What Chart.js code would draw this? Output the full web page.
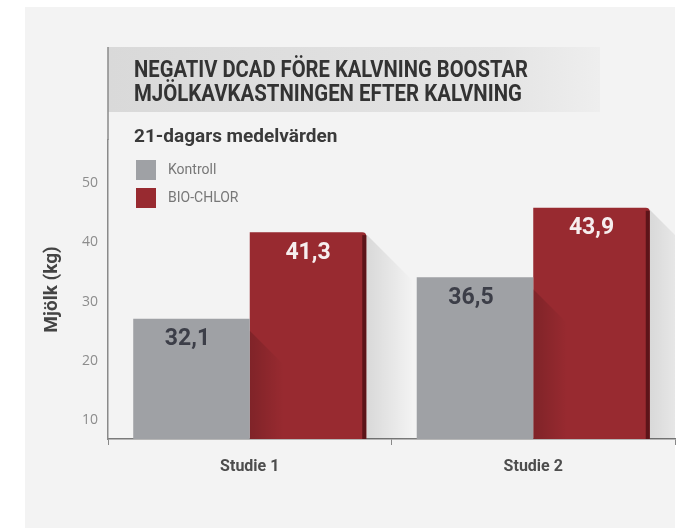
<!DOCTYPE html>
<html>
<head>
<meta charset="utf-8">
<script src="https://cdn.jsdelivr.net/npm/chart.js@4.4.0/dist/chart.umd.min.js"></script>
<style>
  html, body { margin: 0; background: #fff; }
</style>
</head>
<body>
<canvas id="chart" width="687" height="529"></canvas>
<script>
// data
const studies = ['Studie 1', 'Studie 2'];
const kontroll = [32.1, 36.5];
const bioChlor = [41.3, 43.9];
const yTicks = [10, 20, 30, 40, 50];
const titleLines = ['NEGATIV DCAD FÖRE KALVNING BOOSTAR', 'MJÖLKAVKASTNINGEN EFTER KALVNING'];
const subtitle = '21-dagars medelvärden';
const yTitle = 'Mjölk (kg)';

const GREY = '#9fa1a5';
const RED = '#982a30';

const fmt = v => v.toFixed(1).replace('.', ',');

// draws the text in a condensed way when it is wider than maxW
function squeezeText(ctx, text, x, y, maxW) {
    const w = ctx.measureText(text).width;
    ctx.save();
    ctx.translate(x, y);
    if (w > maxW) ctx.scale(maxW / w, 1);
    ctx.fillText(text, 0, 0);
    ctx.restore();
}

const decor = {
    id: 'decor',
    beforeDraw(chart) {
        const ctx = chart.ctx;
        const area = chart.chartArea;
        ctx.save();
        ctx.fillStyle = '#f3f3f3';
        ctx.fillRect(25, 7, 650, 521);

        // header band
        const g = ctx.createLinearGradient(area.left, 0, 600, 0);
        g.addColorStop(0, '#d9d9d9');
        g.addColorStop(0.8, '#e4e4e4');
        g.addColorStop(1, '#eeeeee');
        ctx.fillStyle = g;
        ctx.fillRect(area.left, 47, 600 - area.left, 65);

        // frame line above the plot
        ctx.strokeStyle = '#8a8a8a';
        ctx.lineWidth = 1.5;
        ctx.beginPath();
        ctx.moveTo(area.left, 47);
        ctx.lineTo(area.left, area.top);
        ctx.stroke();

        ctx.fillStyle = '#333';
        ctx.textBaseline = 'alphabetic';
        ctx.textAlign = 'left';
        ctx.font = 'bold 23px Roboto';
        squeezeText(ctx, titleLines[0], 134, 77, 394);
        squeezeText(ctx, titleLines[1], 134, 101, 388);

        ctx.fillStyle = '#3a3a3a';
        ctx.font = 'bold 19px Roboto';
        squeezeText(ctx, subtitle, 134, 142, 218);
        ctx.restore();
    },
    afterDatasetsDraw(chart) {
        const ctx = chart.ctx;
        const area = chart.chartArea;
        ctx.save();
        ctx.beginPath();
        ctx.rect(area.left, area.top, area.right - area.left, area.bottom - area.top);
        ctx.clip();
        chart.data.datasets.forEach((ds, i) => {
            const meta = chart.getDatasetMeta(i);
            meta.data.forEach((bar, j) => {
                const p = bar.getProps(['x', 'y', 'base', 'width'], true);
                const base = Math.min(p.base, area.bottom);
                const right = p.x + p.width / 2;
                const w = i === 0 ? 34 : 47;
                const a = i === 0 ? 0.16 : 0.11;
                const top = p.y + (i === 0 ? 12 : 2);
                const sg = ctx.createLinearGradient(right, 0, right + w, 0);
                sg.addColorStop(0, 'rgba(0,0,0,' + a + ')');
                sg.addColorStop(1, 'rgba(0,0,0,0)');
                ctx.fillStyle = sg;
                ctx.beginPath();
                ctx.moveTo(right, top);
                ctx.lineTo(right + w, top + w);
                ctx.lineTo(right + w, base);
                ctx.lineTo(right, base);
                ctx.closePath();
                ctx.fill();

                if (i === 1) {
                    ctx.fillStyle = '#5c1419';
                    ctx.fillRect(right - 4, p.y + 3, 4, base - p.y - 3);
                }

                ctx.fillStyle = i === 0 ? '#3c3e48' : '#f6eeee';
                ctx.font = 'bold 23px Roboto';
                ctx.textAlign = 'center';
                ctx.textBaseline = 'middle';
                ctx.fillText(fmt(ds.data[j]), p.x - (i === 0 ? 4 : 0), p.y + 21);
            });
        });

        // legend
        chart.data.datasets.forEach((ds, i) => {
            const y = 160 + i * 28;
            ctx.fillStyle = ds.backgroundColor;
            ctx.fillRect(136, y, 20, 20);
            ctx.fillStyle = '#777';
            ctx.font = '14px Roboto';
            ctx.textAlign = 'left';
            ctx.textBaseline = 'middle';
            squeezeText(ctx, ds.label, 168, y + 10, i === 0 ? 54 : 74);
        });
        ctx.restore();
    }
};

new Chart(document.getElementById('chart').getContext('2d'), {
    type: 'bar',
    data: {
        labels: studies,
        datasets: [
            { label: 'Kontroll', data: kontroll, backgroundColor: GREY },
            { label: 'BIO-CHLOR', data: bioChlor, backgroundColor: RED,
              borderRadius: { topRight: 4 }, borderSkipped: 'bottom' }
        ]
    },
    options: {
        responsive: false,
        animation: false,
        layout: { padding: { top: 140, right: 12, left: 0, bottom: 0 } },
        datasets: { bar: { categoryPercentage: 0.822, barPercentage: 1 } },
        plugins: {
            legend: { display: false },
            tooltip: { enabled: false }
        },
        scales: {
            x: {
                afterFit: s => { s.height = 90; },
                grid: { drawOnChartArea: false, tickLength: 6, color: '#888' },
                border: { color: '#7a7a7a', width: 1.5 },
                ticks: { color: '#4d4d4d', padding: 12, font: { family: 'Roboto', weight: 'bold', size: 16 } }
            },
            // bars are drawn against this one
            y: {
                display: false,
                min: 19.3,
                max: 51.1
            },
            // the printed milk axis
            mjolk: {
                position: 'left',
                min: 6.8,
                max: 57.3,
                afterFit: s => { s.width = 108; },
                afterBuildTicks: s => { s.ticks = yTicks.map(v => ({ value: v })); },
                grid: { display: false, drawTicks: false },
                border: { color: '#8a8a8a', width: 1.5 },
                ticks: { color: '#8c8c8c', padding: 10, font: { family: 'Open Sans', size: 14 } },
                title: {
                    display: true,
                    text: yTitle,
                    color: '#444',
                    padding: { top: 41 },
                    font: { family: 'Roboto', weight: 'bold', size: 19 }
                }
            }
        }
    },
    plugins: [decor]
});
</script>
</body>
</html>
